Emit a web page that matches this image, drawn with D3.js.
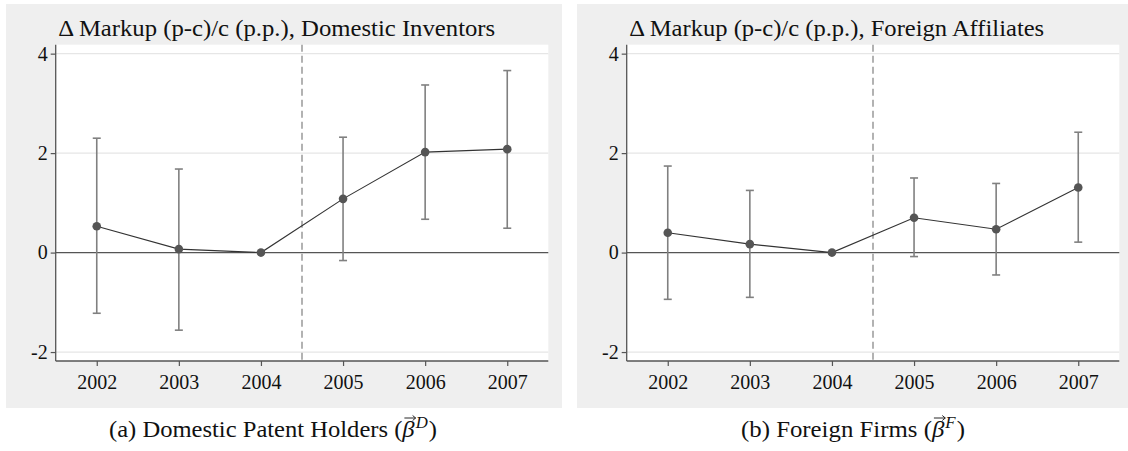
<!DOCTYPE html>
<html>
<head>
<meta charset="utf-8">
<script src="https://cdn.jsdelivr.net/npm/d3@7"></script>
<style>
  html, body { margin: 0; padding: 0; background: #ffffff; }
  svg { display: block; }
  text { font-family: "Liberation Serif", "DejaVu Serif", serif; fill: #111; }
</style>
</head>
<body>
<svg id="chart" width="1128" height="451"></svg>
<script>
// Event-study coefficients (percentage points), base year 2004
const years = [2002, 2003, 2004, 2005, 2006, 2007];

const domesticCoef = [0.53, 0.07, 0, 1.08, 2.02, 2.08];
const domesticLo   = [-1.22, -1.56, null, -0.16, 0.67, 0.49];
const domesticHi   = [2.30, 1.68, null, 2.32, 3.37, 3.66];

const foreignCoef = [0.40, 0.17, 0, 0.70, 0.47, 1.31];
const foreignLo   = [-0.94, -0.90, null, -0.08, -0.45, 0.21];
const foreignHi   = [1.74, 1.25, null, 1.50, 1.39, 2.42];

const yTicks = [-2, 0, 2, 4];
const yTickLabels = ["-2", "0", "2", "4"];
const xTickLabels = ["2002", "2003", "2004", "2005", "2006", "2007"];
const treatmentBreak = 2004.5;

const panelTitles = [
  "\u0394 Markup (p-c)/c (p.p.), Domestic Inventors",
  "\u0394 Markup (p-c)/c (p.p.), Foreign Affiliates"
];
const captionText = ["(a) Domestic Patent Holders (", "(b) Foreign Firms ("];
const captionSup = ["D", "F"];

const panels = [
  { coef: domesticCoef, lo: domesticLo, hi: domesticHi, title: panelTitles[0],
    cap: captionText[0], sup: captionSup[0] },
  { coef: foreignCoef, lo: foreignLo, hi: foreignHi, title: panelTitles[1],
    cap: captionText[1], sup: captionSup[1] }
];

const svg = d3.select("#chart");

// layout
const panelW = 556, panelH = 404, panelTop = 4;
const panelX = [6, 577];
const plotOffX = 49.7, plotTop = 44.7, plotW = 492.6, plotH = 316.3;
const titleWidths = [437, 415];
const captionCenters = [273, 853];
const captionWidths = [328, 224];

panels.forEach((p, i) => {
  const g = svg.append("g").attr("transform", `translate(${panelX[i]},0)`);

  g.append("rect")
    .attr("x", 0).attr("y", panelTop)
    .attr("width", panelW).attr("height", panelH)
    .attr("fill", "#efefef");

  const x = d3.scaleLinear().domain([2001.5, 2007.5]).range([plotOffX, plotOffX + plotW]);
  const y = d3.scaleLinear().domain([-2.18, 4.18]).range([plotTop + plotH, plotTop]);

  // plot region
  g.append("rect")
    .attr("x", plotOffX).attr("y", plotTop)
    .attr("width", plotW).attr("height", plotH)
    .attr("fill", "#ffffff");

  // horizontal gridlines
  g.append("g").selectAll("line")
    .data(yTicks.filter(t => t !== 0))
    .join("line")
    .attr("x1", plotOffX).attr("x2", plotOffX + plotW)
    .attr("y1", d => y(d)).attr("y2", d => y(d))
    .attr("stroke", "#e6e6e6").attr("stroke-width", 1.2);

  // zero reference line
  g.append("line")
    .attr("x1", plotOffX).attr("x2", plotOffX + plotW)
    .attr("y1", y(0)).attr("y2", y(0))
    .attr("stroke", "#555").attr("stroke-width", 1.3);

  // treatment break
  g.append("line")
    .attr("x1", x(treatmentBreak)).attr("x2", x(treatmentBreak))
    .attr("y1", plotTop).attr("y2", plotTop + plotH)
    .attr("stroke", "#999").attr("stroke-width", 1.5)
    .attr("stroke-dasharray", "7,4");

  // axes
  const yAxis = d3.axisLeft(y).tickValues(yTicks).tickSize(5).tickPadding(3)
    .tickFormat((d, k) => yTickLabels[k]);
  const xAxis = d3.axisBottom(x).tickValues(years).tickSize(5).tickPadding(9)
    .tickFormat((d, k) => xTickLabels[k]);

  const ya = g.append("g").attr("transform", `translate(${plotOffX},0)`).call(yAxis);
  const xa = g.append("g").attr("transform", `translate(0,${plotTop + plotH})`).call(xAxis);
  [ya, xa].forEach(a => {
    a.select(".domain").attr("stroke", "#555").attr("stroke-width", 1.3);
    a.selectAll(".tick line").attr("stroke", "#555").attr("stroke-width", 1.2);
    a.selectAll(".tick text")
      .attr("font-family", "Liberation Serif, DejaVu Serif, serif")
      .attr("font-size", 20).attr("fill", "#222");
  });
  ya.select(".domain").attr("d", `M0,${plotTop}V${plotTop + plotH}`);
  xa.select(".domain").attr("d", `M${plotOffX},0H${plotOffX + plotW}`);

  // confidence intervals
  const ci = years.map((yr, k) => ({ yr, lo: p.lo[k], hi: p.hi[k] })).filter(d => d.lo !== null);
  const capHalf = 4;
  const eg = g.append("g").attr("stroke", "#808080").attr("stroke-width", 1.6);
  eg.selectAll(".ci").data(ci).join("line")
    .attr("x1", d => x(d.yr)).attr("x2", d => x(d.yr))
    .attr("y1", d => y(d.lo)).attr("y2", d => y(d.hi));
  eg.selectAll(".capHi").data(ci).join("line")
    .attr("x1", d => x(d.yr) - capHalf).attr("x2", d => x(d.yr) + capHalf)
    .attr("y1", d => y(d.hi)).attr("y2", d => y(d.hi));
  eg.selectAll(".capLo").data(ci).join("line")
    .attr("x1", d => x(d.yr) - capHalf).attr("x2", d => x(d.yr) + capHalf)
    .attr("y1", d => y(d.lo)).attr("y2", d => y(d.lo));

  // point estimates
  const pts = years.map((yr, k) => ({ yr, v: p.coef[k] }));
  g.append("path")
    .datum(pts)
    .attr("fill", "none").attr("stroke", "#333").attr("stroke-width", 1.1)
    .attr("d", d3.line().x(d => x(d.yr)).y(d => y(d.v)));
  g.append("g").selectAll("circle").data(pts).join("circle")
    .attr("cx", d => x(d.yr)).attr("cy", d => y(d.v))
    .attr("r", 4.3).attr("fill", "#555");

  // panel title
  g.append("text")
    .attr("x", plotOffX + 2.5).attr("y", 36)
    .attr("font-size", 23)
    .attr("textLength", titleWidths[i]).attr("lengthAdjust", "spacingAndGlyphs")
    .text(p.title);

  // caption below the panel
  const cx0 = captionCenters[i] - captionWidths[i] / 2;
  const cap = svg.append("text")
    .attr("x", cx0).attr("y", 437)
    .attr("font-size", 23.5)
    .attr("textLength", captionWidths[i]).attr("lengthAdjust", "spacingAndGlyphs");
  cap.append("tspan").text(p.cap);
  cap.append("tspan").attr("font-style", "italic").text("\u03B2");
  cap.append("tspan").attr("font-style", "italic").attr("font-size", 16).attr("dy", -9).attr("dx", 1).text(p.sup);
  cap.append("tspan").attr("dy", 9).attr("dx", 1).text(")");

  // vector arrow over beta
  const node = cap.node();
  const bi = p.cap.length;
  const s = node.getStartPositionOfChar(bi);
  const e = node.getEndPositionOfChar(bi);
  const ay = 437 - 19;
  const ax0 = s.x + 2, ax1 = e.x + 1;
  svg.append("path")
    .attr("d", `M${ax0},${ay}H${ax1}M${ax1 - 3},${ay - 2.5}L${ax1},${ay}L${ax1 - 3},${ay + 2.5}`)
    .attr("fill", "none").attr("stroke", "#111").attr("stroke-width", 0.9);
});
</script>
</body>
</html>
